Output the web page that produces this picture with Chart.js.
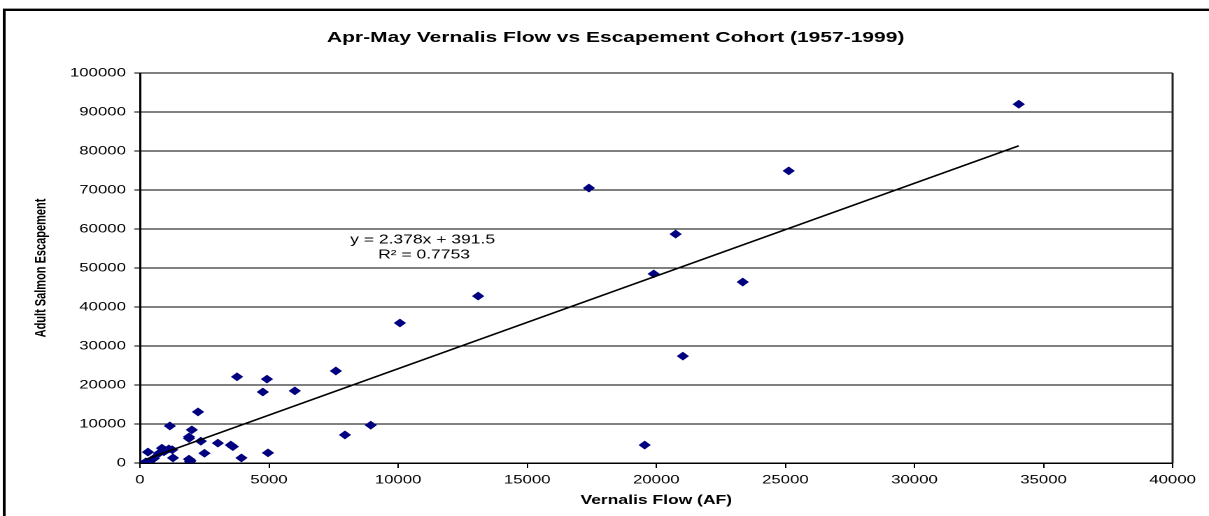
<!DOCTYPE html>
<html>
<head>
<meta charset="utf-8">
<title>Apr-May Vernalis Flow vs Escapement Cohort</title>
<script src="https://cdn.jsdelivr.net/npm/chart.js@4.4.1/dist/chart.umd.min.js"></script>
<style>
  html, body { margin: 0; padding: 0; background: #fff; overflow: hidden; }
  #wrap { width: 1209px; height: 516px; overflow: hidden; }
  /* the sheet is stretched sideways, like the exported workbook chart */
  #chart { display: block; transform: scaleX(1.3993); transform-origin: 0 0; }
</style>
</head>
<body>
<div id="wrap"><canvas id="chart" width="868" height="516"></canvas></div>
<script>
// Apr-May Vernalis flow (acre-feet) and adult salmon escapement, 1957-1999
const flowAF = [
  34040, 25130, 17390, 20750, 19900, 23350, 13100, 10070, 21030, 7590,
  3760, 4920, 6000, 4760, 2250, 1160, 8940, 2010, 7940, 1900,
  1900, 2360, 3020, 19550, 3520, 3600, 850, 1120, 930, 740,
  310, 2500, 4960, 3930, 1280, 540, 430, 230, 1900, 1940,
  1000, 1250, 1950
];
const escapement = [
  92000, 74900, 70500, 58700, 48500, 46400, 42800, 35900, 27400, 23600,
  22100, 21500, 18500, 18200, 13100, 9500, 9700, 8500, 7200, 6700,
  6300, 5600, 5100, 4600, 4600, 4200, 3800, 3600, 2900, 2500,
  2800, 2500, 2600, 1300, 1300, 1200, 700, 300, 1000, 400,
  3200, 3400, 700
];

// linear trendline as reported on the chart
const trendSlope = 2.378;
const trendIntercept = 391.5;
const trendR2 = 0.7753;

const xTicks = [0, 5000, 10000, 15000, 20000, 25000, 30000, 35000, 40000];
const yTicks = [0, 10000, 20000, 30000, 40000, 50000, 60000, 70000, 80000, 90000, 100000];

const chartTitle = 'Apr-May Vernalis Flow vs Escapement Cohort (1957-1999)';

const FONT = '"Liberation Sans", Arial, Helvetica, sans-serif';
Chart.defaults.font.family = FONT;
Chart.defaults.color = '#000';

const points = flowAF.map((x, i) => ({ x: x, y: escapement[i] }));
const xLo = Math.min(...flowAF);
const xHi = Math.max(...flowAF);
const trend = [xLo, xHi].map(x => ({ x: x, y: trendSlope * x + trendIntercept }));

// outer chart frame, plot box edge, title and the trendline equation
const decorations = {
  id: 'decorations',
  beforeDatasetsDraw(chart) {
    const { ctx, chartArea: a } = chart;
    ctx.save();
    ctx.strokeStyle = '#222';
    ctx.lineWidth = 1.5;
    ctx.beginPath();
    ctx.moveTo(a.right, a.top);
    ctx.lineTo(a.right, a.bottom);
    ctx.stroke();
    // sheet border (runs off the right and bottom edges)
    ctx.strokeStyle = '#000';
    ctx.lineWidth = 2;
    ctx.beginPath();
    ctx.moveTo(3, 530);
    ctx.lineTo(3, 10);
    ctx.lineTo(880, 10);
    ctx.stroke();
    ctx.strokeStyle = '#999';
    ctx.lineWidth = 1;
    ctx.beginPath();
    ctx.moveTo(2, 8.5);
    ctx.lineTo(880, 8.5);
    ctx.stroke();
    ctx.restore();
  },
  afterDatasetsDraw(chart) {
    const { ctx, scales } = chart;
    ctx.save();
    ctx.fillStyle = '#000';
    ctx.textAlign = 'center';
    ctx.textBaseline = 'middle';
    ctx.font = 'bold 15px ' + FONT;
    ctx.fillText(chartTitle, 440, 38);
    const cx = scales.x.getPixelForValue(10950);
    const cy = scales.y.getPixelForValue(57200);
    ctx.font = '12.5px ' + FONT;
    ctx.fillText('y = ' + trendSlope + 'x + ' + trendIntercept, cx, cy);
    ctx.fillText('R\u00B2 = ' + trendR2, cx + 1, cy + 15);
    ctx.restore();
  }
};

new Chart(document.getElementById('chart'), {
  type: 'scatter',
  data: {
    datasets: [
      {
        type: 'line',
        label: 'Linear trend',
        data: trend,
        borderColor: '#000',
        borderWidth: 1.6,
        pointRadius: 0,
        fill: false,
        tension: 0
      },
      {
        label: 'Escapement',
        data: points,
        pointStyle: 'rectRot',
        pointRadius: 3.7,
        pointBackgroundColor: '#000080',
        pointBorderColor: '#000080',
        pointBorderWidth: 1
      }
    ]
  },
  options: {
    responsive: false,
    animation: false,
    devicePixelRatio: 2,
    events: [],
    layout: { padding: { left: 0, right: 30, top: 73, bottom: 0 } },
    plugins: {
      legend: { display: false },
      tooltip: { enabled: false },
      title: { display: false }
    },
    scales: {
      x: {
        type: 'linear',
        min: 0,
        max: 40000,
        afterBuildTicks: s => { s.ticks = xTicks.map(v => ({ value: v })); },
        afterFit: s => { s.height = 53; },
        ticks: {
          font: { size: 12 },
          padding: 5,
          maxRotation: 0,
          callback: v => String(v)
        },
        grid: {
          drawOnChartArea: false,
          drawTicks: true,
          tickLength: 5,
          tickColor: '#000',
          tickWidth: 1
        },
        border: { display: true, color: '#000', width: 1.5 },
        title: {
          display: true,
          text: 'Vernalis Flow (AF)',
          font: { size: 12.5, weight: 'bold' },
          padding: { top: 0, bottom: 8 }
        }
      },
      y: {
        type: 'linear',
        min: 0,
        max: 100000,
        afterBuildTicks: s => { s.ticks = yTicks.map(v => ({ value: v })); },
        afterFit: s => { s.width = 100; },
        ticks: {
          font: { size: 12 },
          padding: 6,
          callback: v => String(v)
        },
        grid: {
          color: '#000',
          lineWidth: 1,
          drawTicks: true,
          tickLength: 4,
          tickColor: '#000'
        },
        border: { display: true, color: '#000', width: 1.5 },
        title: {
          display: true,
          text: 'Adult Salmon Escapement',
          font: { size: 11, weight: 'bold' },
          padding: { top: 23, bottom: 0 }
        }
      }
    }
  },
  plugins: [decorations]
});
</script>
</body>
</html>
